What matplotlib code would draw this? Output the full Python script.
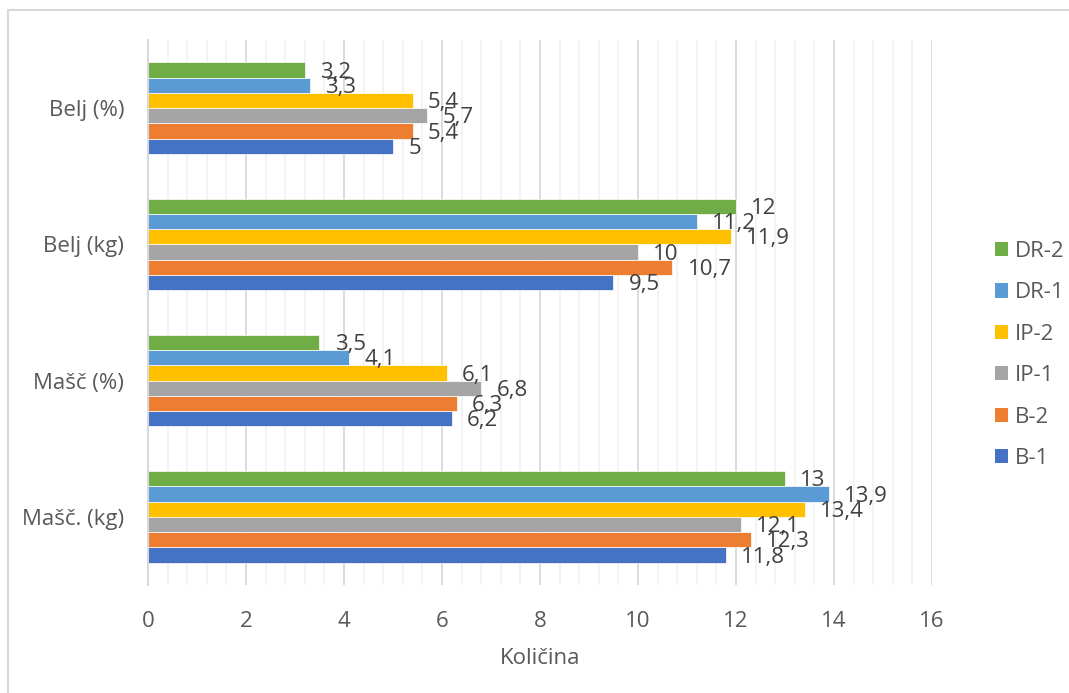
import numpy as np
import matplotlib.pyplot as plt
from matplotlib.patches import Rectangle
from matplotlib.ticker import MultipleLocator

plt.rcParams['font.family'] = ['Open Sans', 'DejaVu Sans']

# categories from bottom to top
categories = ['Mašč. (kg)', 'Mašč (%)', 'Belj (kg)', 'Belj (%)']
series = ['B-1', 'B-2', 'IP-1', 'IP-2', 'DR-1', 'DR-2']
b1 = [11.8, 6.2, 9.5, 5]
b2 = [12.3, 6.3, 10.7, 5.4]
ip1 = [12.1, 6.8, 10, 5.7]
ip2 = [13.4, 6.1, 11.9, 5.4]
dr1 = [13.9, 4.1, 11.2, 3.3]
dr2 = [13, 3.5, 12, 3.2]
colors = ['#4472C4', '#ED7D31', '#A5A5A5', '#FFC000', '#5B9BD5', '#70AD47']

text_col = '#595959'
label_col = '#404040'
grid_major = '#D9D9D9'
grid_minor = '#F2F2F2'
fs = 16

fig = plt.figure(figsize=(10.69, 6.93), dpi=100)
ax = fig.add_axes([0.1384, 0.1558, 0.7334, 0.7865])

# outer chart border
fig.patches.append(Rectangle((0.0075, -0.1), 1.1, 0.9856 + 0.1, transform=fig.transFigure,
                             fill=False, edgecolor=grid_major, linewidth=1.5))

y = np.arange(len(categories))
h = 0.112
values = [b1, b2, ip1, ip2, dr1, dr2]
for i, (name, vals, col) in enumerate(zip(series, values, colors)):
    pos = y + (i - 2.5) * h
    bars = ax.barh(pos, vals, height=h, color=col, edgecolor='white', linewidth=0.5,
                   label=name, zorder=3)
    for bar, v in zip(bars, vals):
        lab = '{:g}'.format(v).replace('.', ',')
        ax.annotate(lab, (v, bar.get_y() + bar.get_height() / 2), xytext=(11, -1.5),
                    textcoords='offset points', ha='left', va='center',
                    fontsize=fs, color=label_col, zorder=4)

ax.set_xlim(0, 16)
ax.set_ylim(-0.5, 3.5)
ax.xaxis.set_major_locator(MultipleLocator(2))
ax.xaxis.set_minor_locator(MultipleLocator(0.4))
ax.grid(axis='x', which='major', color=grid_major, linewidth=1.3, zorder=0)
ax.grid(axis='x', which='minor', color=grid_minor, linewidth=1.3, zorder=0)
ax.set_axisbelow(True)

ax.set_yticks(y)
ax.set_yticklabels(categories)
ax.tick_params(axis='y', length=0, pad=17, labelsize=fs, labelcolor=text_col)
ax.tick_params(axis='x', which='both', length=0, pad=19, labelsize=fs, labelcolor=text_col)

for s in ['top', 'right', 'bottom']:
    ax.spines[s].set_visible(False)
ax.spines['left'].set_color(grid_major)
ax.spines['left'].set_linewidth(1.5)
ax.spines['left'].set_zorder(5)

fig.text(540 / 1069, 1 - 658 / 693, 'Količina', ha='center', va='center',
         fontsize=fs, color=text_col)

handles, labels = ax.get_legend_handles_labels()
leg = fig.legend(handles[::-1], labels[::-1], loc='center left',
                 bbox_to_anchor=(975 / 1069, 1 - 355 / 693), frameon=False,
                 fontsize=fs, handlelength=0.6, handleheight=0.6, handletextpad=0.3,
                 labelspacing=0.92, labelcolor=text_col)
for p in leg.get_patches():
    p.set_edgecolor('none')

plt.savefig('out.png', dpi=100)
